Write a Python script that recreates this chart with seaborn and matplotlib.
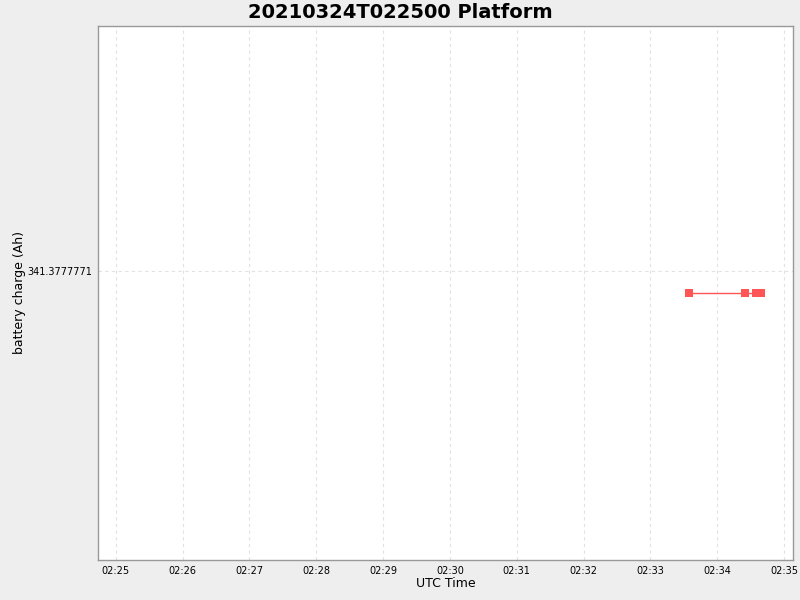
import pandas as pd
import matplotlib
matplotlib.use('Agg')
import matplotlib.pyplot as plt
import matplotlib.dates as mdates
from matplotlib.ticker import FixedLocator, FixedFormatter
import seaborn as sns

# data
times = ['2021-03-24 02:33:35', '2021-03-24 02:34:25', '2021-03-24 02:34:35', '2021-03-24 02:34:39']
charge = [341.37777705, 341.37777705, 341.37777705, 341.37777705]
y_tick = 341.3777771

df = pd.DataFrame({'time': pd.to_datetime(times), 'charge': charge})

sns.set_style('white')
plt.rcParams['font.family'] = ['DejaVu Sans']
plt.rcParams['text.color'] = 'black'
plt.rcParams['axes.labelcolor'] = 'black'
plt.rcParams['xtick.color'] = 'black'
plt.rcParams['ytick.color'] = 'black'

fig = plt.figure(figsize=(8, 6), dpi=100, facecolor='#EEEEEE')
ax = fig.add_axes([98 / 800, 40 / 600, 695 / 800, 534 / 600])
ax.set_facecolor('white')

sns.lineplot(data=df, x='time', y='charge', ax=ax, color='#FF5555', linewidth=1,
             marker='s', markersize=5.3, markeredgewidth=0)

# axis limits
ax.set_xlim(pd.Timestamp('2021-03-24 02:24:44'), pd.Timestamp('2021-03-24 02:35:08'))
half = 6.07e-7
ax.set_ylim(charge[0] - half, charge[0] + half)

ax.xaxis.set_major_locator(mdates.MinuteLocator())
ax.xaxis.set_major_formatter(mdates.DateFormatter('%H:%M'))
ax.yaxis.set_major_locator(FixedLocator([y_tick]))
ax.yaxis.set_major_formatter(FixedFormatter(['%.7f' % y_tick]))

ax.grid(True, color='#E2E2E2', linestyle=(0, (3, 3)), linewidth=0.8)
for s in ax.spines.values():
    s.set_color('#999999')
    s.set_linewidth(1)
ax.tick_params(labelsize=7, length=2, pad=2, color='#999999', labelcolor='black')

ax.set_xlabel('UTC Time', fontsize=9, labelpad=1)
ax.set_ylabel('battery charge (Ah)', fontsize=9, labelpad=1)
fig.suptitle('20210324T022500 Platform', fontsize=14, fontweight='bold', y=0.995, color='black')

fig.savefig('out.png', dpi=100, facecolor=fig.get_facecolor())
